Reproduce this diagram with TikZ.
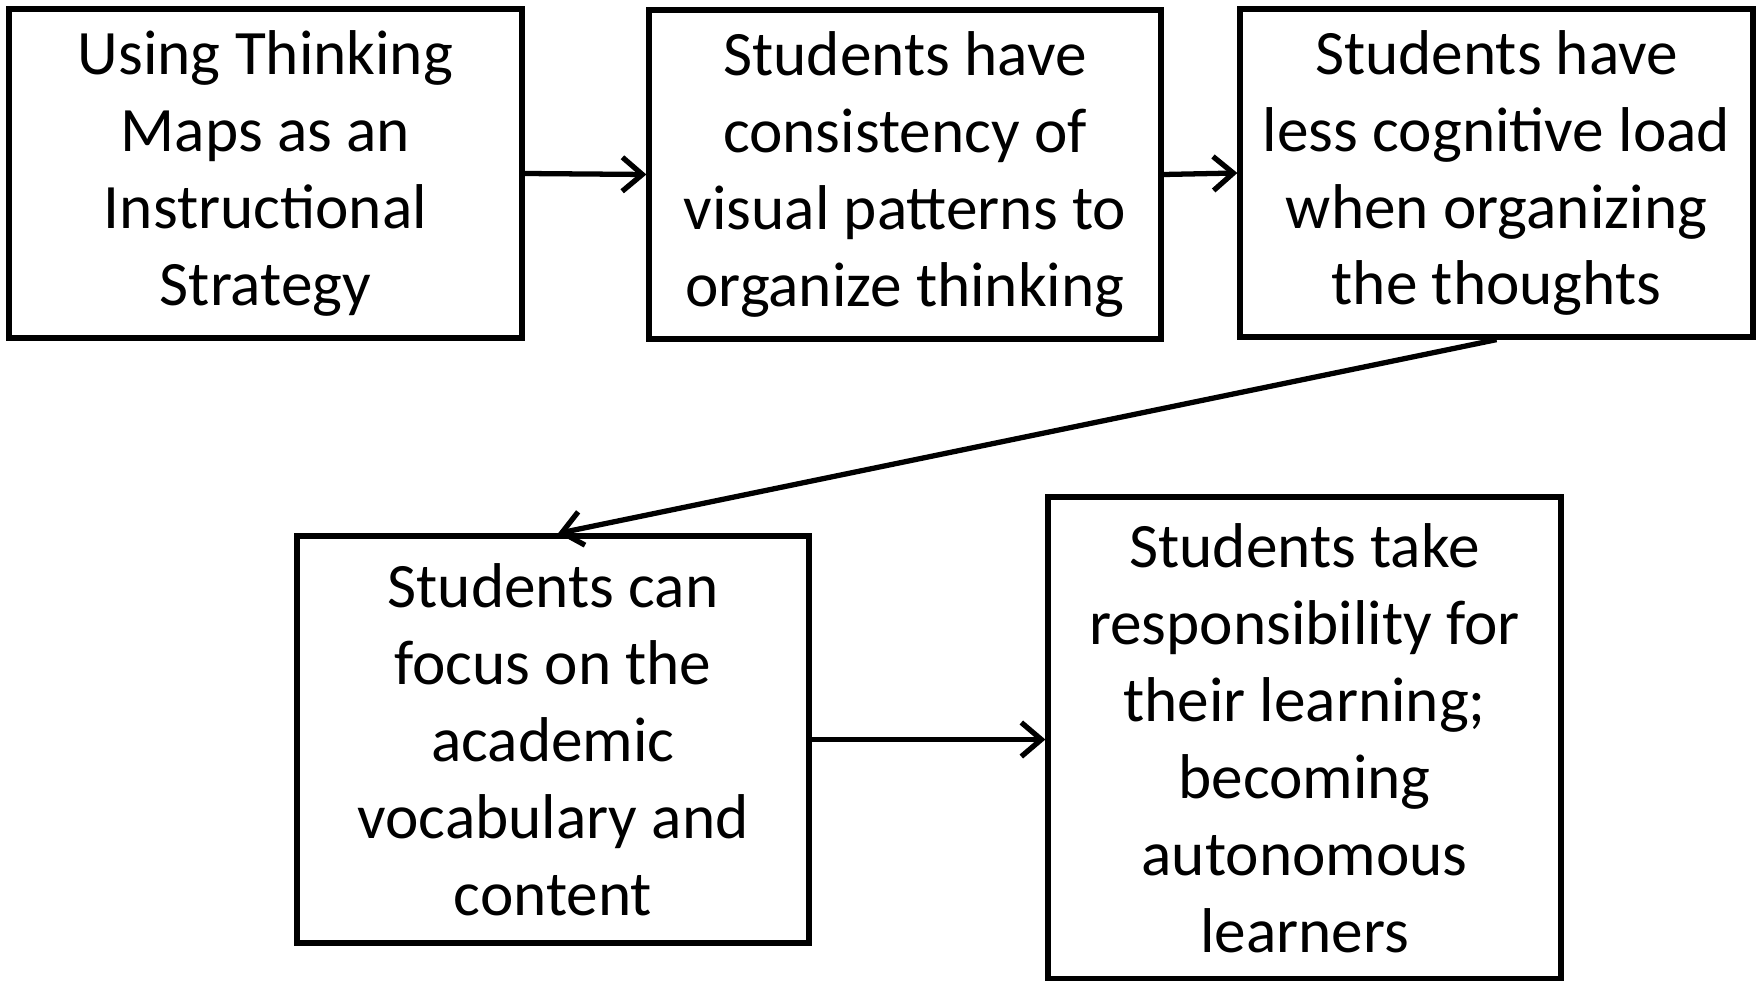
\documentclass[tikz,border=0pt]{standalone}
\usepackage{fontspec}
\setmainfont{Carlito}
\usetikzlibrary{arrows.meta}
\begin{document}
\begin{tikzpicture}[
    x=0.1mm, y=-0.1mm,
    box/.style={rectangle, draw, line width=1.5pt, align=center, inner sep=0pt,
                font=\fontsize{18}{21.9}\selectfont},
    arrow/.style={-{Straight Barb[length=2mm, width=3.4mm]}, line width=1.5pt}
]
    \useasboundingbox (0,0) rectangle (1760,981);

    % Boxes
    \node[box, minimum width=51.3mm, minimum height=32.9mm] (maps) at (265.5,173.5)
        {Using Thinking\\Maps as an\\Instructional\\Strategy};
    \node[box, minimum width=51.2mm, minimum height=32.9mm] (visual) at (905,174.5)
        {Students have\\consistency of\\visual patterns to\\organize thinking};
    \node[box, minimum width=51.3mm, minimum height=32.8mm] (load) at (1496.5,173)
        {Students have\\less cognitive load\\when organizing\\the thoughts};
    \node[box, minimum width=51.2mm, minimum height=40.7mm] (focus) at (553,739.5)
        {Students can\\focus on the\\academic\\vocabulary and\\content};
    \node[box, minimum width=51.3mm, minimum height=48.2mm] (learners) at (1304.5,738)
        {Students take\\responsibility for\\their learning;\\becoming\\autonomous\\learners};

    % Arrows
    \draw[arrow] (maps.east) -- (visual.west);
    \draw[arrow] (visual.east) -- (load.west);
    \draw[arrow] (load.south) -- ([xshift=0.5mm]focus.north);
    \draw[arrow] (focus.east) -- (learners.west |- focus.east);
\end{tikzpicture}
\end{document}
